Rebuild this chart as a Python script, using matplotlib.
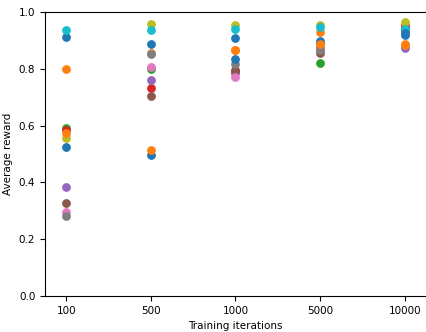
import numpy as np
import matplotlib
matplotlib.use("Agg")
import matplotlib.pyplot as plt

# training iteration categories
iterations = ["100", "500", "1000", "5000", "10000"]

# average reward per run (one list per run, values at each iteration count)
run_01 = [0.912, 0.888, 0.908, 0.898, 0.919]
run_02 = [0.800, 0.857, 0.866, 0.928, 0.887]
run_03 = [0.592, 0.800, 0.788, 0.822, 0.945]
run_04 = [0.583, 0.733, 0.797, 0.875, 0.953]
run_05 = [0.383, 0.760, 0.785, 0.872, 0.875]
run_06 = [0.327, 0.703, 0.792, 0.857, 0.942]
run_07 = [0.297, 0.806, 0.772, 0.868, 0.930]
run_08 = [0.282, 0.852, 0.818, 0.865, 0.935]
run_09 = [0.556, 0.958, 0.955, 0.955, 0.964]
run_10 = [0.938, 0.937, 0.940, 0.946, 0.940]
run_11 = [0.524, 0.497, 0.833, 0.890, 0.925]
run_12 = [0.575, 0.514, 0.865, 0.886, 0.884]

runs = [run_01, run_02, run_03, run_04, run_05, run_06,
        run_07, run_08, run_09, run_10, run_11, run_12]

fig = plt.figure(figsize=(4.26, 3.32), dpi=100)
ax = fig.add_axes([45 / 426, 36 / 332, 1 - 45 / 426, 284 / 332])

x = np.arange(len(iterations))
for vals in runs:
    ax.scatter(x, vals, s=28)

ax.set_xticks(x)
ax.set_xticklabels(iterations)
ax.set_xlim(-0.25, 4.25)
ax.set_ylim(0.0, 1.0)
ax.set_yticks(np.arange(0, 1.01, 0.2))
ax.tick_params(labelsize=7.5)
ax.set_xlabel("Training iterations", fontsize=7.5)
ax.set_ylabel("Average reward", fontsize=7.5)
ax.spines["right"].set_visible(False)

fig.savefig("out.png", dpi=100)
